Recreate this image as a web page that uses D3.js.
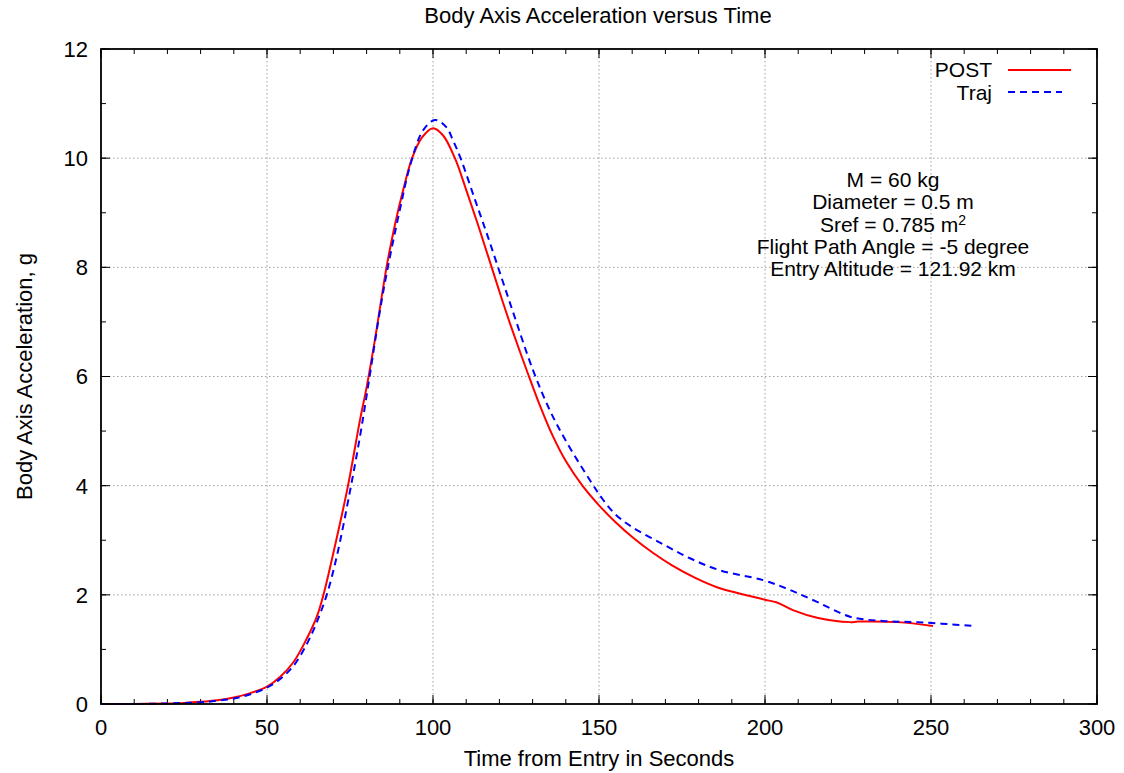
<!DOCTYPE html>
<html>
<head>
<meta charset="utf-8">
<script src="https://cdn.jsdelivr.net/npm/d3@7"></script>
<style>
  body { margin: 0; background: #fff; }
  svg text { font-family: "Liberation Sans", Arial, sans-serif; fill: #000; }
</style>
</head>
<body>
<svg id="chart" width="1124" height="773"></svg>
<script>
// POST trajectory (red, solid)
const postTime = [0, 10, 20, 25, 30, 35, 40, 45, 50, 54, 58, 62, 65, 67, 70, 74.4, 78, 80, 82.5, 86, 88.6, 91, 93.7, 96.7, 100, 103, 106.6, 110, 113.6, 117.2, 121, 124, 128.6, 132, 136, 140, 145, 150, 155, 160, 166, 172, 179, 185.5, 192, 196, 200, 203.6, 208.4, 215.7, 225.6, 228, 240, 250.6];
const postAccel = [0, 0, 0.01, 0.02, 0.04, 0.07, 0.12, 0.2, 0.32, 0.5, 0.77, 1.2, 1.6, 2.0, 2.77, 4.0, 5.2, 5.8, 6.67, 8.0, 8.8, 9.41, 10.0, 10.38, 10.55, 10.42, 10.0, 9.42, 8.77, 8.09, 7.37, 6.83, 6.05, 5.5, 4.92, 4.45, 4.0, 3.64, 3.33, 3.06, 2.78, 2.54, 2.31, 2.14, 2.03, 1.97, 1.91, 1.86, 1.72, 1.58, 1.50, 1.51, 1.50, 1.43];

// Traj trajectory (blue, dashed)
const trajTime = [0, 10, 20, 25, 30, 35, 40, 45, 50, 54, 58, 62, 65, 68, 71, 75, 78, 80.4, 84, 86.4, 90, 93, 97, 100.6, 104, 106, 108.3, 112.7, 116.7, 120.7, 124, 130.1, 135.2, 140.4, 147.9, 151, 155, 160, 168.9, 177.4, 186.4, 199.4, 207.5, 215.7, 225.6, 235.5, 245.8, 262.7];
const trajAccel = [0, 0, 0.01, 0.02, 0.03, 0.06, 0.1, 0.18, 0.3, 0.46, 0.7, 1.1, 1.5, 2.0, 2.7, 3.9, 4.9, 5.8, 7.2, 8.0, 9.05, 9.84, 10.51, 10.70, 10.57, 10.33, 10.0, 9.23, 8.53, 7.8, 7.2, 6.12, 5.38, 4.78, 4.04, 3.76, 3.47, 3.24, 2.94, 2.67, 2.45, 2.27, 2.09, 1.87, 1.60, 1.52, 1.50, 1.43];

const xTicks = [0, 50, 100, 150, 200, 250, 300];
const yTicks = [0, 2, 4, 6, 8, 10, 12];
const xMinor = d3.range(0, 301, 10);
const yMinor = d3.range(0, 12.1, 1);

const infoLines = ['M = 60 kg', 'Diameter = 0.5 m', 'Sref = 0.785 m', 'Flight Path Angle = -5 degree', 'Entry Altitude = 121.92 km'];

const svg = d3.select('#chart');
const margin = { top: 49, right: 27, bottom: 69, left: 101 };
const width = 1124 - margin.left - margin.right;
const height = 773 - margin.top - margin.bottom;

const x = d3.scaleLinear().domain([0, 300]).range([0, width]);
const y = d3.scaleLinear().domain([0, 12]).range([height, 0]);

const g = svg.append('g').attr('transform', `translate(${margin.left},${margin.top})`);

// dotted grid at major ticks
g.selectAll('.vgrid').data(xTicks.slice(1, -1)).enter().append('line')
    .attr('x1', d => x(d)).attr('x2', d => x(d))
    .attr('y1', 0).attr('y2', height)
    .attr('stroke', '#a0a0a0').attr('stroke-width', 1).attr('stroke-dasharray', '1.5,2.5');
g.selectAll('.hgrid').data(yTicks.slice(1, -1)).enter().append('line')
    .attr('x1', 0).attr('x2', width)
    .attr('y1', d => y(d)).attr('y2', d => y(d))
    .attr('stroke', '#a0a0a0').attr('stroke-width', 1).attr('stroke-dasharray', '1.5,2.5');

// inward ticks on all four sides
const tick = (data, len, isX) => {
  data.forEach(v => {
    if (isX) {
      g.append('line').attr('x1', x(v)).attr('x2', x(v)).attr('y1', height).attr('y2', height - len).attr('stroke', '#000');
      g.append('line').attr('x1', x(v)).attr('x2', x(v)).attr('y1', 0).attr('y2', len).attr('stroke', '#000');
    } else {
      g.append('line').attr('y1', y(v)).attr('y2', y(v)).attr('x1', 0).attr('x2', len).attr('stroke', '#000');
      g.append('line').attr('y1', y(v)).attr('y2', y(v)).attr('x1', width).attr('x2', width - len).attr('stroke', '#000');
    }
  });
};
tick(xMinor, 5, true);
tick(xTicks, 9, true);
tick(yMinor, 5, false);
tick(yTicks, 9, false);

// tick labels
g.selectAll('.xl').data(xTicks).enter().append('text')
    .attr('x', d => x(d)).attr('y', height + 31)
    .attr('text-anchor', 'middle').style('font-size', '22px')
    .text(d => d);
g.selectAll('.yl').data(yTicks).enter().append('text')
    .attr('x', -13).attr('y', d => y(d)).attr('dy', '0.36em')
    .attr('text-anchor', 'end').style('font-size', '22px')
    .text(d => d);

// curves
const line = d3.line()
    .x(d => x(d[0])).y(d => y(d[1]))
    .curve(d3.curveCatmullRom.alpha(0.5));

const postData = postTime.map((t, i) => [t, postAccel[i]]);
const trajData = trajTime.map((t, i) => [t, trajAccel[i]]);

g.append('path').datum(postData)
    .attr('d', line).attr('fill', 'none')
    .attr('stroke', '#ff0000').attr('stroke-width', 2);
g.append('path').datum(trajData)
    .attr('d', line).attr('fill', 'none')
    .attr('stroke', '#0000ff').attr('stroke-width', 2).attr('stroke-dasharray', '7,5');

// frame
g.append('rect').attr('width', width).attr('height', height)
    .attr('fill', 'none').attr('stroke', '#000').attr('stroke-width', 1.8);

// legend
const legend = svg.append('g');
legend.append('text').attr('x', 992).attr('y', 77).attr('text-anchor', 'end')
    .style('font-size', '21px').text('POST');
legend.append('line').attr('x1', 1008).attr('x2', 1071).attr('y1', 70).attr('y2', 70)
    .attr('stroke', '#ff0000').attr('stroke-width', 2);
legend.append('text').attr('x', 992).attr('y', 99.5).attr('text-anchor', 'end')
    .style('font-size', '21px').text('Traj');
legend.append('line').attr('x1', 1008).attr('x2', 1062).attr('y1', 92).attr('y2', 92)
    .attr('stroke', '#0000ff').attr('stroke-width', 2).attr('stroke-dasharray', '7,5');

// info block
const info = svg.append('g');
infoLines.forEach((s, i) => {
  const t = info.append('text').attr('x', 893).attr('y', 187 + i * 22.3)
      .attr('text-anchor', 'middle').style('font-size', '21px').text(s);
  if (i === 2) {
    t.append('tspan').attr('dy', '-0.5em').style('font-size', '14px').text('2');
  }
});

// titles
svg.append('text').attr('x', 598).attr('y', 23).attr('text-anchor', 'middle')
    .style('font-size', '22px').text('Body Axis Acceleration versus Time');
svg.append('text').attr('x', margin.left + width / 2).attr('y', 766).attr('text-anchor', 'middle')
    .style('font-size', '22px').text('Time from Entry in Seconds');
svg.append('text')
    .attr('transform', `translate(32,${margin.top + height / 2}) rotate(-90)`)
    .attr('text-anchor', 'middle').style('font-size', '22px')
    .text('Body Axis Acceleration, g');
</script>
</body>
</html>
